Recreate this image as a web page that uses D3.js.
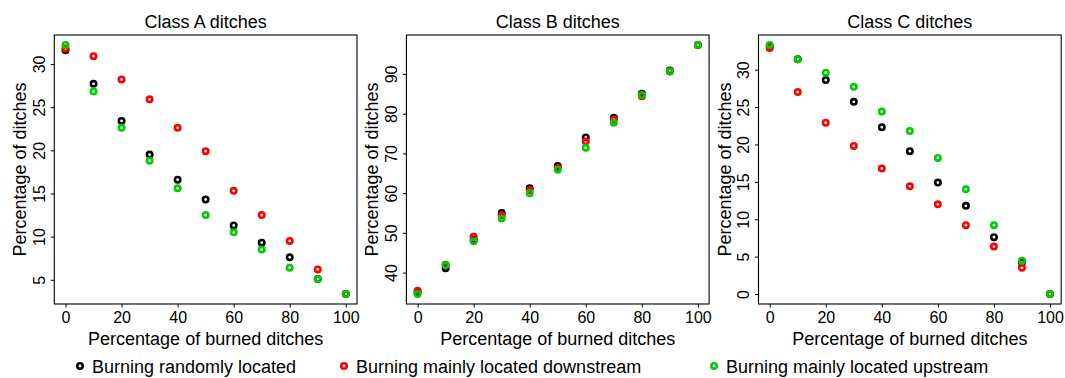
<!DOCTYPE html>
<html><head><meta charset="utf-8">
<script src="https://cdn.jsdelivr.net/npm/d3@7"></script>
<style>body{margin:0;background:#fff}svg{display:block;font-family:"Liberation Sans",Arial,Helvetica,sans-serif}</style>
</head><body><svg id="c" width="1065" height="378"></svg>
<script>
const xs = [0,10,20,30,40,50,60,70,80,90,100];
const panelTitles = ["Class A ditches","Class B ditches","Class C ditches"];
const seriesNames = ["Burning randomly located","Burning mainly located downstream","Burning mainly located upstream"];
const seriesColors = ["#000000","#FF0000","#00CD00"];
const xTicks = [0,20,40,60,80,100];
const yTicksA = [5,10,15,20,25,30];
const yTicksB = [40,50,60,70,80,90];
const yTicksC = [0,5,10,15,20,25,30];
// Class A
const aRandom = [31.6,27.7,23.4,19.5,16.6,14.3,11.3,9.3,7.6,5.1,3.35];
const aDown   = [31.8,30.9,28.2,25.9,22.6,19.9,15.3,12.5,9.5,6.2,3.35];
const aUp     = [32.2,26.8,22.6,18.8,15.6,12.5,10.5,8.5,6.4,5.1,3.35];
// Class B
const bRandom = [35.0,41.1,48.2,55.0,61.2,66.8,74.0,79.0,85.0,90.9,97.3];
const bDown   = [35.4,42.0,49.0,54.4,60.7,66.3,73.0,78.5,84.4,90.6,97.3];
const bUp     = [34.6,41.9,47.9,53.6,60.0,65.9,71.4,77.7,84.7,90.7,97.3];
// Class C
const cRandom = [33.1,31.4,28.6,25.7,22.3,19.1,14.9,11.8,7.6,4.2,0.0];
const cDown   = [32.9,27.0,22.9,19.8,16.8,14.4,12.0,9.2,6.35,3.5,0.0];
const cUp     = [33.3,31.4,29.6,27.7,24.4,21.8,18.2,14.0,9.2,4.45,0.0];

const panels = [
  {title: panelTitles[0], series: [aRandom,aDown,aUp], yTicks: yTicksA},
  {title: panelTitles[1], series: [bRandom,bDown,bUp], yTicks: yTicksB},
  {title: panelTitles[2], series: [cRandom,cDown,cUp], yTicks: yTicksC}
];

const svg = d3.select("#c");
const plotTop = 35, plotBottom = 304, pw = 302.7, step = 352.1, left0 = 54.3;

function pad(ext){ const d=(ext[1]-ext[0])*0.04; return [ext[0]-d, ext[1]+d]; }

panels.forEach((p,i)=>{
  const L = left0 + i*step, R = L + pw;
  const g = svg.append("g");
  const x = d3.scaleLinear().domain(pad(d3.extent(xs))).range([L,R]);
  const all = p.series.flat();
  const y = d3.scaleLinear().domain(pad(d3.extent(all))).range([plotBottom, plotTop]);

  g.append("rect").attr("x",L).attr("y",plotTop).attr("width",pw).attr("height",plotBottom-plotTop)
    .attr("fill","none").attr("stroke","#000").attr("stroke-width",1.1);

  const xa = g.append("g").attr("transform",`translate(0,${plotBottom})`)
    .call(d3.axisBottom(x).tickValues(xTicks).tickSize(3.5).tickPadding(4).tickFormat(d3.format("d")));
  xa.select(".domain").remove();
  xa.selectAll("line").attr("stroke","#000");
  xa.selectAll("text").attr("font-size",16).attr("fill","#000").attr("dy",null).attr("y",18.5);

  const ya = g.append("g").attr("transform",`translate(${L},0)`)
    .call(d3.axisLeft(y).tickValues(p.yTicks).tickSize(3.5).tickFormat(d3.format("d")));
  ya.select(".domain").remove();
  ya.selectAll("line").attr("stroke","#000");
  ya.selectAll("text").attr("font-size",16).attr("fill","#000")
    .attr("x",null).attr("dy",null).attr("text-anchor","middle")
    .attr("transform","translate(-9.3,0) rotate(-90)");

  g.append("text").attr("x",(L+R)/2).attr("y",28).attr("text-anchor","middle")
    .attr("font-size",18).text(p.title);
  g.append("text").attr("x",(L+R)/2).attr("y",344.5).attr("text-anchor","middle")
    .attr("font-size",18).text("Percentage of burned ditches");
  g.append("text").attr("transform",`translate(${L-28},${(plotTop+plotBottom)/2}) rotate(-90)`)
    .attr("text-anchor","middle").attr("font-size",18).text("Percentage of ditches");

  p.series.forEach((vals,k)=>{
    g.append("g").selectAll("circle").data(vals).join("circle")
      .attr("cx",(d,j)=>x(xs[j])).attr("cy",d=>y(d)).attr("r",2.7)
      .attr("fill","none").attr("stroke",seriesColors[k]).attr("stroke-width",2.6);
  });
});

const legX = [80, 344, 714];
const lg = svg.append("g");
seriesNames.forEach((n,k)=>{
  lg.append("circle").attr("cx",legX[k]).attr("cy",366).attr("r",2.7)
    .attr("fill","none").attr("stroke",seriesColors[k]).attr("stroke-width",2.6);
  lg.append("text").attr("x",legX[k]+12).attr("y",372.5).attr("font-size",18).text(n);
});
</script></body></html>
